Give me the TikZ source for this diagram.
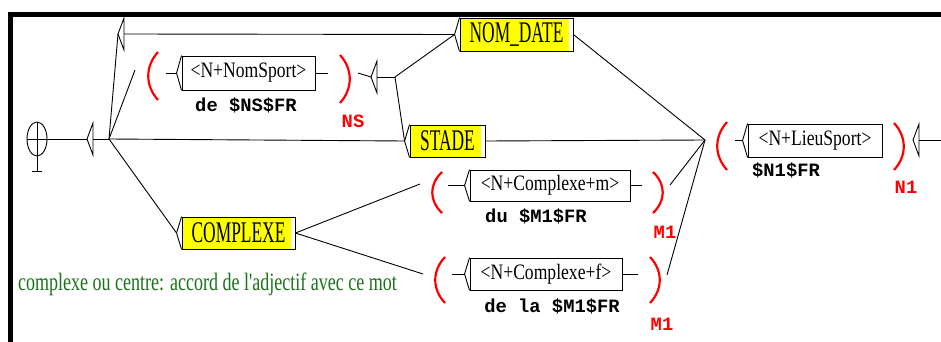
\documentclass[tikz,border=0pt]{standalone}
\usepackage{fontspec}
\usepackage{graphicx}
\setmainfont{Liberation Serif}
\setmonofont{Liberation Mono}
\usetikzlibrary{shapes.geometric}
\definecolor{jaune}{rgb}{1,1,0}
\definecolor{rouge}{rgb}{1,0,0}
\definecolor{vert}{rgb}{0.1,0.45,0.1}

\tikzset{
	trans/.style={line width=0.9pt},
	etat/.style={draw, ellipse, line width=0.9pt, inner sep=0pt, minimum width=20pt, minimum height=34pt},
	boite/.style={draw, line width=0.9pt, inner sep=0pt, fill=white, font=\fontsize{22}{22}\selectfont},
	graphe/.style={boite, font=\fontsize{30}{30}\selectfont,
		path picture={\fill[jaune] (path picture bounding box.north west) rectangle ([xshift=-4pt]path picture bounding box.south east);}},
	sortie/.style={font=\fontsize{18.8}{18.8}\selectfont\ttfamily\bfseries, inner sep=0pt},
	var/.style={sortie, text=rouge},
	parenth/.style={draw=rouge, line width=2.2pt},
	commentaire/.style={font=\fontsize{25}{25}\selectfont, text=vert, inner sep=0pt}
}

% boite vide : triangle d'entree
\newcommand{\vide}[3]{%
	\coordinate (#1-e) at (#2,#3);
	\coordinate (#1-s) at (#2+6,#3);
	\draw[trans] (#2+6,#3-16) -- (#1-e) -- (#2+6,#3+16) -- cycle;
}
% parentheses rouges
\newcommand{\parg}[3]{\draw[parenth] (#1+10,#2) .. controls (#1-3,{#2+(#3-#2)*0.3}) and (#1-3,{#3-(#3-#2)*0.3}) .. (#1+10,#3);}
\newcommand{\pard}[3]{\draw[parenth] (#1,#2) .. controls (#1+13,{#2+(#3-#2)*0.3}) and (#1+13,{#3-(#3-#2)*0.3}) .. (#1,#3);}

\begin{document}
\begin{tikzpicture}[x=1pt,y=-1pt]
			\useasboundingbox (0,0) rectangle (941,342);
			
			% cadre
			\fill[black] (8,12) rectangle (941,17);
			\fill[black] (8,12) rectangle (13,342);
			
			% etat initial
			\node[etat] (init) at (37,139) {};
			\draw[trans] (init.north) -- ++(0,50) coordinate (pied);
			\draw[trans] ([xshift=-5pt]pied) -- ([xshift=5pt]pied);
			
			% boites vides
			\vide{v1}{87}{139}
			\vide{v2}{118}{34}
			\vide{v3}{371}{77}
			\vide{v4}{913}{140}
			
			% points de jonction
			\coordinate (b1) at (109,139);
			\coordinate (b2) at (395,77);
			\coordinate (conv) at (705,140);
			\coordinate (fin) at (941,140);
			
			% sous-graphes (boites jaunes)
			\node[graphe, minimum width=113pt, minimum height=33pt] (nomdate) at (516.5,34.5) {\scalebox{0.58}[1]{NOM\_DATE}};
			\node[graphe, minimum width=75pt, minimum height=32pt] (stade) at (447.5,141) {\scalebox{0.58}[1]{STADE}};
			\node[graphe, minimum width=113pt, minimum height=32pt] (complexe) at (238.5,233) {\scalebox{0.58}[1]{COMPLEXE}};
			
			% boites lexicales
			\node[boite, minimum width=133pt, minimum height=34pt] (nomsport) at (248.5,73) {\scalebox{0.8}[1]{<N+NomSport>}};
			\node[boite, minimum width=160pt, minimum height=31pt] (cplxm) at (550,185.5) {\scalebox{0.8}[1]{<N+Complexe+m>}};
			\node[boite, minimum width=152pt, minimum height=32pt] (cplxf) at (546,274) {\scalebox{0.8}[1]{<N+Complexe+f>}};
			\node[boite, minimum width=134pt, minimum height=33pt] (lieusport) at (815,140.5) {\scalebox{0.8}[1]{<N+LieuSport>}};
			\foreach \b in {nomdate,stade,complexe,nomsport,cplxm,cplxf,lieusport}
				\draw[trans] (\b.north west) -- ([xshift=-5pt]\b.west) -- (\b.south west);
			
			% sorties sous les boites
			\node[sortie, anchor=base] (s1) at (246,112) {de \$NS\$FR};
			\node[sortie, anchor=base] (s2) at (536,222) {du \$M1\$FR};
			\node[sortie, anchor=base] (s3) at (552,312) {de la \$M1\$FR};
			\node[sortie, anchor=base] (s4) at (786,176) {\$N1\$FR};
			
			% variables
			\node[var, anchor=base] (ns) at (353,128) {NS};
			\node[var, anchor=base] (m1a) at (665,238) {M1};
			\node[var, anchor=base] (m1b) at (662,330) {M1};
			\node[var, anchor=base] (n1) at (906,193) {N1};
			
			% parentheses
			\parg{148}{52}{100} \pard{340}{55}{103}
			\parg{432}{172}{213} \pard{653}{172}{213}
			\parg{435}{257}{303} \pard{650}{257}{303}
			\parg{717}{122}{170} \pard{894}{123}{170}
			
			% bouts de fleches autour des parentheses
			\coordinate (nsin) at (135,70);
			\coordinate (nsdeb) at (166,73);
			\coordinate (nsfin) at (328,73);
			\coordinate (nsout) at (358,73);
			\coordinate (mi) at (420,184);
			\coordinate (mdeb) at (448,185.5);
			\coordinate (mfin) at (642,185.5);
			\coordinate (mout) at (670,185);
			\coordinate (fi) at (423,274);
			\coordinate (fdeb) at (452,274);
			\coordinate (ffin) at (638,274);
			\coordinate (fout) at (667,275);
			\coordinate (ldeb) at (735,140.5);
			
			% transitions
			\draw[trans] (init.west) -- (v1-e);
			\draw[trans] (v1-s) -- (b1);
			\draw[trans] (b1) -- (v2-e);
			\draw[trans] (v2-s) -- ([xshift=-5pt]nomdate.west);
			\draw[trans] (b1) -- (nsin);
			\draw[trans] (b1) -- ([xshift=-5pt]stade.west);
			\draw[trans] (b1) -- ([xshift=-5pt]complexe.west);
			\draw[trans] (nsdeb) -- ([xshift=-5pt]nomsport.west);
			\draw[trans] (nomsport.east) -- (nsfin);
			\draw[trans] (nsout) -- (v3-e);
			\draw[trans] (v3-s) -- (b2);
			\draw[trans] (b2) -- ([xshift=-5pt]nomdate.west);
			\draw[trans] (b2) -- ([xshift=-5pt]stade.west);
			\draw[trans] (nomdate.east) -- (conv);
			\draw[trans] (stade.east) -- (conv);
			\draw[trans] (complexe.east) -- (mi);
			\draw[trans] (complexe.east) -- (fi);
			\draw[trans] (mdeb) -- ([xshift=-5pt]cplxm.west);
			\draw[trans] (cplxm.east) -- (mfin);
			\draw[trans] (fdeb) -- ([xshift=-5pt]cplxf.west);
			\draw[trans] (cplxf.east) -- (ffin);
			\draw[trans] (mout) -- (conv);
			\draw[trans] (fout) -- (conv);
			\draw[trans] (ldeb) -- ([xshift=-5pt]lieusport.west);
			\draw[trans] (v4-s) -- (fin);
			
			% commentaire
			\node[commentaire, anchor=base west] (note) at (18,290) {\scalebox{0.72}[1]{complexe ou centre: accord de l\textquotesingle adjectif avec ce mot}};
			
		\end{tikzpicture}
\end{document}
